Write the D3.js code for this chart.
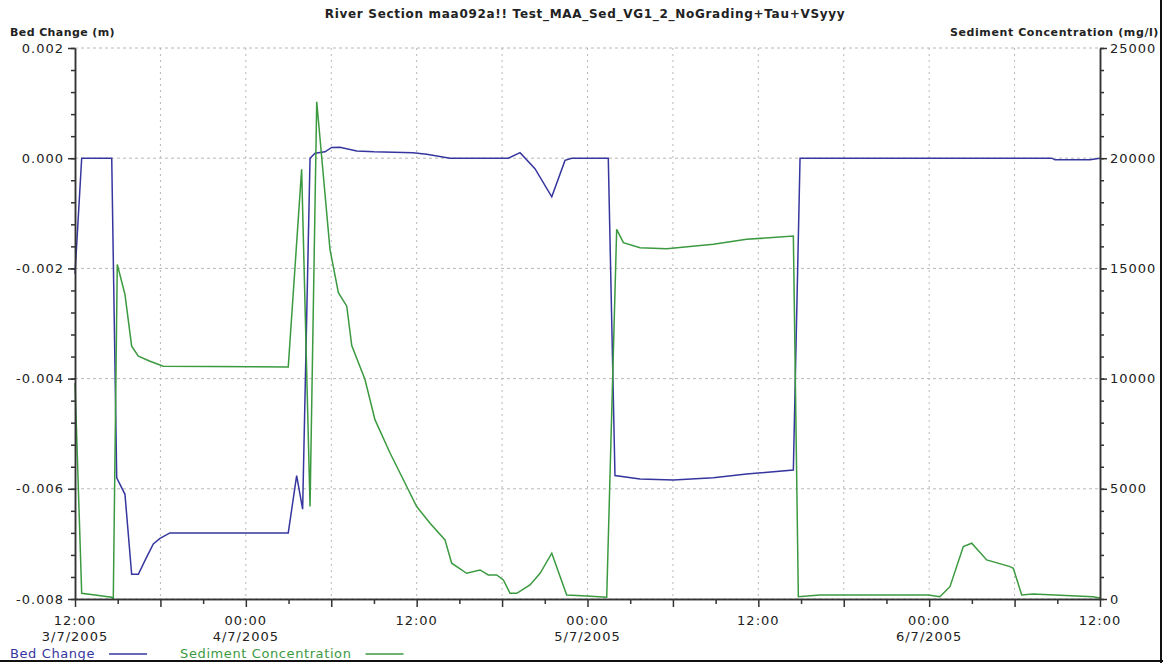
<!DOCTYPE html>
<html>
<head>
<meta charset="utf-8">
<script src="https://cdn.jsdelivr.net/npm/d3@7"></script>
<style>
    body { margin: 0; background: #fff; }
    svg { display: block; }
    text { font-family: "DejaVu Sans", Verdana, sans-serif; fill: #222; }
</style>
</head>
<body>
<svg id="chart" width="1163" height="663"></svg>
<script>
//图表数据: 时间为距 3/7/2005 12:00 的小时数
var startTime = new Date(2005, 6, 3, 12, 0);
var totalHours = 72;

var bedHours = [0, 0.47, 2.58, 2.93, 3.51, 3.98, 4.45, 4.92, 5.5, 5.97, 6.67, 14.98, 15.57, 15.99, 16.51,
    16.86, 17.56, 18.03, 18.61, 19.79, 21.0, 23.74, 24.71, 26.34, 30.44, 31.26, 32.31, 33.49, 34.42, 34.89,
    37.46, 37.93, 39.69, 42.03, 44.84, 47.18, 50.46, 50.93, 68.61, 68.84, 71.3, 72];
var bedChange = [-0.0021, 0, 0, -0.0058, -0.0061, -0.00755, -0.00755, -0.0073, -0.007, -0.0069, -0.0068, -0.0068, -0.00576, -0.00637, 0,
    0.00009, 0.000115, 0.000195, 0.0002, 0.00013, 0.000115, 0.0001, 0.00007, 0, 0, 0.0001, -0.00019, -0.0007, -0.00004, 0,
    0, -0.00576, -0.00582, -0.00584, -0.0058, -0.00573, -0.00566, 0, 0, -0.00003, -0.00003, 0];

var sedHours = [0, 0.47, 1.4, 2.58, 2.69, 2.97, 3.51, 3.98, 4.45, 5.27, 6.2, 14.98, 15.92, 16.51, 16.98,
    17.91, 18.5, 19.09, 19.44, 20.37, 21.07, 22.13, 23.3, 24.0, 24.94, 25.99, 26.46, 27.51, 28.45, 29.03,
    29.62, 30.09, 30.56, 31.03, 31.96, 32.67, 33.49, 34.54, 35.94, 37.35, 38.05, 38.52, 39.69, 41.56, 44.84,
    47.18, 50.46, 50.81, 52.33, 59.94, 60.75, 61.46, 62.4, 62.99, 64.04, 65.68, 65.91, 66.5, 67.29, 71.51, 72];
var sedConc = [9800, 260, 180, 77, 30, 15182, 13818, 11470, 11015, 10788, 10560, 10530, 19500, 4195, 22560,
    15864, 13895, 13286, 11500, 9955, 8136, 6623, 5105, 4195, 3441, 2682, 1623, 1168, 1318, 1091,
    1091, 864, 259, 259, 636, 1168, 2077, 182, 136, 77, 16773, 16168, 15940, 15895, 16091,
    16318, 16468, 105, 182, 182, 105, 560, 2377, 2530, 1773, 1468, 1395, 182, 227, 105, 45];

var leftTicks = [-0.008, -0.006, -0.004, -0.002, 0, 0.002];
var rightTicks = [0, 5000, 10000, 15000, 20000, 25000];

var chartTitle = "River Section maa092a!! Test_MAA_Sed_VG1_2_NoGrading+Tau+VSyyy";
var leftTitle = "Bed Change (m)";
var rightTitle = "Sediment Concentration (mg/l)";
var seriesNames = ["Bed Change", "Sediment Concentration"];
var seriesColors = ["#36369f", "#3b9a3f"];

var svg = d3.select("#chart");
var plotL = 75, plotR = 1100, plotT = 48, plotB = 599;

var x = d3.scaleTime()
    .domain([startTime, d3.timeHour.offset(startTime, totalHours)])
    .range([plotL, plotR]);
var yL = d3.scaleLinear().domain([-0.008, 0.002]).range([plotB, plotT]);
var yR = d3.scaleLinear().domain([0, 25000]).range([plotB, plotT]);

function hourDate(h) {
    return new Date(startTime.getTime() + h * 3600 * 1000);
}

//网格线
var grid = svg.append("g").attr("class", "grid");
grid.selectAll("line.h")
    .data(leftTicks)
    .join("line")
    .attr("class", "h")
    .attr("x1", plotL).attr("x2", plotR)
    .attr("y1", d => yL(d)).attr("y2", d => yL(d))
    .attr("stroke", "#b8b8b8")
    .attr("stroke-dasharray", "3,3");

var sixHours = d3.range(6, totalHours, 6).map(hourDate);
grid.selectAll("line.v")
    .data(sixHours)
    .join("line")
    .attr("class", "v")
    .attr("x1", d => x(d)).attr("x2", d => x(d))
    .attr("y1", plotT).attr("y2", plotB)
    .attr("stroke", "#b8b8b8")
    .attr("stroke-dasharray", "2,4");

//折线
var bedLine = d3.line()
    .x((d, i) => x(hourDate(bedHours[i])))
    .y(d => yL(d));
var sedLine = d3.line()
    .x((d, i) => x(hourDate(sedHours[i])))
    .y(d => yR(d));

svg.append("path")
    .datum(bedChange)
    .attr("d", bedLine)
    .attr("fill", "none")
    .attr("stroke", seriesColors[0])
    .attr("stroke-width", 1.5);

svg.append("path")
    .datum(sedConc)
    .attr("d", sedLine)
    .attr("fill", "none")
    .attr("stroke", seriesColors[1])
    .attr("stroke-width", 1.5);

//坐标轴
function styleAxis(g) {
    g.select(".domain").attr("stroke", "#333").attr("stroke-width", 1.5);
    g.selectAll(".tick line").attr("stroke", "#333").attr("stroke-width", 1.5);
    g.selectAll(".tick text").attr("fill", "#222").style("font-size", "13px")
        .style("letter-spacing", "1px")
        .style("font-family", "DejaVu Sans, Verdana, sans-serif");
}

var minorL = d3.range(0, 26).map(i => -0.008 + i * 0.0004);
svg.append("g")
    .attr("transform", `translate(${plotL},0)`)
    .call(d3.axisLeft(yL).tickValues(minorL).tickSize(4).tickFormat("").tickSizeOuter(0))
    .call(styleAxis);
svg.append("g")
    .attr("transform", `translate(${plotL},0)`)
    .call(d3.axisLeft(yL).tickValues(leftTicks).tickSize(7).tickPadding(4).tickSizeOuter(0)
        .tickFormat(d => d.toFixed(3)))
    .call(styleAxis);

var minorR = d3.range(0, 26).map(i => i * 1000);
svg.append("g")
    .attr("transform", `translate(${plotR},0)`)
    .call(d3.axisRight(yR).tickValues(minorR).tickSize(4).tickFormat("").tickSizeOuter(0))
    .call(styleAxis);
svg.append("g")
    .attr("transform", `translate(${plotR},0)`)
    .call(d3.axisRight(yR).tickValues(rightTicks).tickSize(7).tickPadding(3).tickSizeOuter(0)
        .tickFormat(d3.format("d")))
    .call(styleAxis);

var threeHours = d3.range(0, totalHours + 1, 3).filter(h => h % 6 !== 0).map(hourDate);
var twelveHours = d3.range(0, totalHours + 1, 12).map(hourDate);
svg.append("g")
    .attr("transform", `translate(0,${plotB})`)
    .call(d3.axisBottom(x).tickValues(threeHours).tickSize(5).tickFormat("").tickSizeOuter(0))
    .call(styleAxis);
svg.append("g")
    .attr("transform", `translate(0,${plotB})`)
    .call(d3.axisBottom(x).tickValues(d3.range(0, totalHours + 1, 6).map(hourDate)).tickSize(8)
        .tickFormat("").tickSizeOuter(0))
    .call(styleAxis);

//时间标签(两行)
var fmtTime = d3.timeFormat("%H:%M");
var fmtDate = d3.timeFormat("%-d/%-m/%Y");
var xLabels = svg.append("g").attr("class", "xlabels");
xLabels.selectAll("text.time")
    .data(twelveHours)
    .join("text")
    .attr("class", "time")
    .attr("x", d => x(d))
    .attr("y", 625)
    .attr("text-anchor", "middle")
    .style("font-size", "13px")
    .style("letter-spacing", "1px")
    .text(d => fmtTime(d));
xLabels.selectAll("text.date")
    .data(twelveHours.filter((d, i) => i === 0 || d.getHours() === 0))
    .join("text")
    .attr("class", "date")
    .attr("x", d => x(d))
    .attr("y", 641)
    .attr("text-anchor", "middle")
    .style("font-size", "13px")
    .style("letter-spacing", "1px")
    .text(d => fmtDate(d));

//标题
svg.append("text")
    .attr("x", 585)
    .attr("y", 18)
    .attr("text-anchor", "middle")
    .style("font-size", "12px")
    .style("font-weight", "bold")
    .style("letter-spacing", "0.7px")
    .attr("fill", "#333")
    .text(chartTitle);

svg.append("text")
    .attr("x", 10)
    .attr("y", 36)
    .style("font-size", "11px")
    .style("font-weight", "bold")
    .style("letter-spacing", "0.4px")
    .attr("fill", "#333")
    .text(leftTitle);

svg.append("text")
    .attr("x", 1159)
    .attr("y", 36)
    .attr("text-anchor", "end")
    .style("font-size", "11px")
    .style("font-weight", "bold")
    .style("letter-spacing", "0.6px")
    .attr("fill", "#333")
    .text(rightTitle);

//图例
var legend = svg.append("g").attr("class", "legend");
var lx = 10;
seriesNames.forEach(function (name, i) {
    var t = legend.append("text")
        .attr("x", lx)
        .attr("y", 658)
        .style("font-size", "13px")
        .style("letter-spacing", "0.6px")
        .style("fill", seriesColors[i])
        .text(name);
    var w = t.node().getComputedTextLength();
    legend.append("line")
        .attr("x1", lx + w + 14).attr("x2", lx + w + 52)
        .attr("y1", 654).attr("y2", 654)
        .attr("stroke", seriesColors[i])
        .attr("stroke-width", 1.5);
    lx = lx + w + 85;
});

//外框阴影
svg.append("line")
    .attr("x1", 0).attr("x2", 1163)
    .attr("y1", 661).attr("y2", 661)
    .attr("stroke", "#111").attr("stroke-width", 2);
svg.append("line")
    .attr("x1", 1161).attr("x2", 1161)
    .attr("y1", 0).attr("y2", 663)
    .attr("stroke", "#111").attr("stroke-width", 2);
</script>
</body>
</html>
